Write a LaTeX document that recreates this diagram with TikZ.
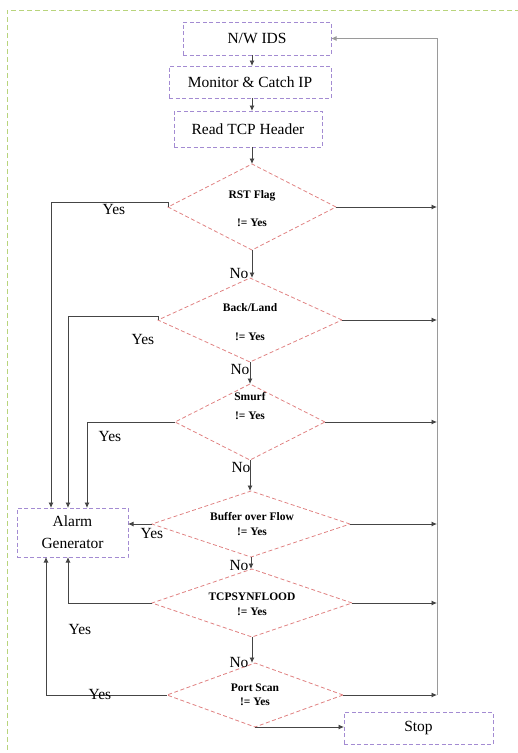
\documentclass[tikz,border=0pt]{standalone}
\usepackage{fontspec}
\setmainfont{Liberation Serif}
\usetikzlibrary{shapes.geometric,arrows.meta,calc}
\definecolor{frameGreen}{HTML}{B8D47C}
\definecolor{boxPurple}{HTML}{A38BD2}
\definecolor{testRed}{HTML}{E08282}
\definecolor{flowGray}{HTML}{454545}
\definecolor{loopGray}{HTML}{9A9A9A}

\begin{document}
\begin{tikzpicture}[x=1pt,y=-1pt,
  procbox/.style={draw=boxPurple, dash pattern=on 4pt off 2.5pt, line width=0.8pt,
    rectangle, inner sep=0pt, outer sep=0pt, font=\fontsize{15.5}{22}\selectfont, align=center},
  test/.style={draw=testRed, dash pattern=on 4pt off 2.5pt, line width=0.8pt,
    diamond, inner sep=0pt, outer sep=0pt},
  testtxt/.style={font=\fontsize{11.5}{13}\selectfont\bfseries, inner sep=0pt},
  lbl/.style={font=\fontsize{15.5}{18}\selectfont, inner sep=0pt},
  flow/.style={draw=flowGray, line width=0.8pt},
  arr/.style={flow, -{Latex[length=5.5pt,width=5pt]}},
  loop/.style={draw=loopGray, line width=0.9pt},
]
\useasboundingbox (0,0) rectangle (518,753);

% outer frame (top and left edges)
\draw[frameGreen, line width=0.9pt, dash pattern=on 5pt off 3pt] (520,10) -- (7,10) -- (7,755);

% process boxes
\node[procbox, minimum width=148pt, minimum height=33pt] (nw)    at (257,38.5) {N/W IDS};
\node[procbox, minimum width=162pt, minimum height=32pt] (mon)   at (250,82)   {Monitor \& Catch IP};
\node[procbox, minimum width=148pt, minimum height=36pt] (read)  at (248,129)  {Read TCP Header};
\node[procbox, minimum width=111pt, minimum height=49pt] (alarm) at (72.5,532.5) {Alarm\\Generator};
\node[procbox, minimum width=149pt, minimum height=32pt] (stop)  at (418.5,728) {Stop};

% decision diamonds
\node[test, minimum width=168pt, minimum height=86pt] (d1) at (252,207) {};
\node[test, minimum width=184pt, minimum height=84pt] (d2) at (250,320) {};
\node[test, minimum width=150pt, minimum height=76pt] (d3) at (250,422) {};
\node[test, minimum width=198pt, minimum height=66pt] (d4) at (251,524) {};
\node[test, minimum width=200pt, minimum height=68pt] (d5) at (252,603) {};
\node[test, minimum width=176pt, minimum height=64pt] (d6) at (255,695) {};

% diamond texts
\node[testtxt] (t1a) at (252,196) {RST Flag};
\node[testtxt] (t1b) at (252,223) {!= Yes};
\node[testtxt] (t2a) at (250,308) {Back/Land};
\node[testtxt] (t2b) at (250,337) {!= Yes};
\node[testtxt] (t3a) at (250,397) {Smurf};
\node[testtxt] (t3b) at (250,416) {!= Yes};
\node[testtxt] (t4a) at (252,517) {Buffer over Flow};
\node[testtxt] (t4b) at (252,532) {!= Yes};
\node[testtxt] (t5a) at (252,597) {TCPSYNFLOOD};
\node[testtxt] (t5b) at (252,612) {!= Yes};
\node[testtxt] (t6a) at (255,688) {Port Scan};
\node[testtxt] (t6b) at (255,702) {!= Yes};

% main downward flow
\draw[arr] (nw.south -| d1.north) -- (mon.north -| d1.north);
\draw[arr] (mon.south -| d1.north) -- (read.north -| d1.north);
\draw[arr] (read.south -| d1.north) -- (d1.north);
\draw[arr] (d1.south) -- (d1.south |- d2.north);
\draw[arr] (d2.south) -- (d2.south |- d3.north);
\draw[arr] (d3.south) -- (d3.south |- d4.north);
\draw[arr] (d4.south) -- (d4.south |- d5.north);
\draw[arr] (d5.south) -- (d5.south |- d6.north);

% "No" labels
\node[lbl] (no1) at (239,273) {No};
\node[lbl] (no2) at (240,369) {No};
\node[lbl] (no3) at (241,467) {No};
\node[lbl] (no4) at (239,565) {No};
\node[lbl] (no5) at (239,662) {No};

% return loop on the right
\coordinate (loopX) at (437,0);
\draw[arr] (d1.east) -- (d1.east -| loopX);
\draw[arr] (d2.east) -- (d2.east -| loopX);
\draw[arr] (d3.east) -- (d3.east -| loopX);
\draw[arr] (d4.east) -- (d4.east -| loopX);
\draw[arr] (d5.east) -- (d5.east -| loopX);
\draw[arr] (d6.east) -- (d6.east -| loopX);
\draw[loop, -{Latex[length=5.5pt,width=5pt]}] (d6.east -| loopX) -- (nw.east -| loopX) -- (nw.east);

% "Yes" branches into the alarm generator
\coordinate (a1) at ($(alarm.north west)+(34,0)$);
\coordinate (a2) at ($(alarm.north west)+(51,0)$);
\coordinate (a3) at ($(alarm.north west)+(70,0)$);
\coordinate (b1) at ($(alarm.south west)+(29,0)$);
\coordinate (b2) at ($(alarm.south west)+(51,0)$);
\draw[arr] (d1.west) -- ++(0,-5) -| (a1);
\draw[arr] (d2.west) -- ++(0,-4) -| (a2);
\draw[arr] (d3.west) -| (a3);
\draw[arr] (d4.west) -- (d4.west -| alarm.east);
\draw[arr] (d5.west) -| (b2);
\draw[arr] (d6.west) -| (b1);

% "Yes" labels
\node[lbl] (y1) at (114,209) {Yes};
\node[lbl] (y2) at (143,339) {Yes};
\node[lbl] (y3) at (110,436) {Yes};
\node[lbl] (y4) at (152,533) {Yes};
\node[lbl] (y5) at (80,629)  {Yes};
\node[lbl] (y6) at (100,694) {Yes};

% last test to stop
\draw[arr] (d6.south) -- (d6.south -| stop.west);
\end{tikzpicture}
\end{document}
